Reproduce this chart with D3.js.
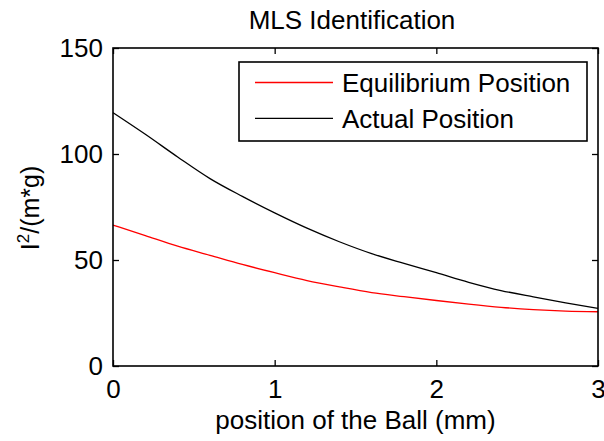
<!DOCTYPE html>
<html>
<head>
<meta charset="utf-8">
<script src="https://cdn.jsdelivr.net/npm/d3@7"></script>
<style>
  body { margin: 0; background: #fff; }
  text { font-family: "Liberation Sans", Arial, sans-serif; fill: #000; }
</style>
</head>
<body>
<svg id="chart"></svg>
<script>
// values
let positions   = [0, 0.2, 0.4, 0.6, 0.8, 1.0, 1.2, 1.4, 1.6, 1.8, 2.0, 2.2, 2.4, 2.6, 2.8, 3.0]
let equilibrium = [66.5, 61.5, 56.5, 52.2, 47.9, 44, 40.3, 37.3, 34.6, 32.7, 30.9, 29.2, 27.7, 26.6, 25.9, 25.6]
let actual      = [119.5, 109.3, 98.6, 88.4, 80, 72.2, 65, 58.6, 53, 48.4, 44, 39.5, 35.6, 32.6, 29.8, 27.2]
let seriesNames = ["Equilibrium Position", "Actual Position"]
let xTicks = [0, 1, 2, 3]
let yTicks = [0, 50, 100, 150]

let seriesColors = ["#ff0000", "#000000"]

function showData() {

    //STEP 1: plot area
    let width = 604
    let height = 441
    let margin = { top: 48, right: 6, bottom: 75, left: 113 }
    let bodyWidth = width - margin.left - margin.right
    let bodyHeight = height - margin.top - margin.bottom
    let fontSize = 26

    let svg = d3.select("#chart")
        .attr("width", width)
        .attr("height", height)

    let chart = svg.append("g")
        .attr("transform", `translate(${margin.left}, ${margin.top})`)

    //STEP 2: scales and axes (MATLAB style: ticks inside, box on)
    let xScale = d3.scaleLinear()
        .domain([xTicks[0], xTicks[xTicks.length - 1]])
        .range([0, bodyWidth])

    let yScale = d3.scaleLinear()
        .domain([yTicks[0], yTicks[yTicks.length - 1]])
        .range([bodyHeight, 0])

    let xAxis = chart.append("g")
        .attr("transform", `translate(0, ${bodyHeight})`)
        .call(d3.axisBottom(xScale).tickValues(xTicks).tickFormat(d3.format("d"))
            .tickSizeInner(-6).tickSizeOuter(0).tickPadding(14))

    let yAxis = chart.append("g")
        .call(d3.axisLeft(yScale).tickValues(yTicks).tickFormat(d3.format("d"))
            .tickSizeInner(-6).tickSizeOuter(0).tickPadding(10))

    let topAxis = chart.append("g")
        .call(d3.axisTop(xScale).tickValues(xTicks).tickFormat("")
            .tickSizeInner(-6).tickSizeOuter(0))

    let rightAxis = chart.append("g")
        .attr("transform", `translate(${bodyWidth}, 0)`)
        .call(d3.axisRight(yScale).tickValues(yTicks).tickFormat("")
            .tickSizeInner(-6).tickSizeOuter(0))

    for (let ax of [xAxis, yAxis, topAxis, rightAxis]) {
        ax.attr("font-size", fontSize)
          .attr("font-family", null)
        ax.select(".domain").remove()
        ax.selectAll(".tick line").attr("stroke", "#000").attr("stroke-width", 1.3)
    }

    //STEP 3: the two curves
    let lines = [equilibrium, actual]
    for (var i = 0; i < lines.length; i++) {
        let valueline = d3.line()
            .x((d, j) => xScale(positions[j]))
            .y(d => yScale(d))
            .curve(d3.curveMonotoneX)

        chart.append("path")
            .datum(lines[i])
            .attr("fill", "none")
            .attr("stroke", seriesColors[i])
            .attr("stroke-width", 1.3)
            .attr("d", valueline)
    }

    // axes box
    chart.append("rect")
        .attr("x", 0)
        .attr("y", 0)
        .attr("width", bodyWidth)
        .attr("height", bodyHeight)
        .attr("fill", "none")
        .attr("stroke", "#000")
        .attr("stroke-width", 1.6)

    //STEP 4: legend
    let legend = chart.append("g")
        .attr("transform", `translate(${239 - margin.left}, ${62 - margin.top})`)

    legend.append("rect")
        .attr("width", 348)
        .attr("height", 79)
        .attr("fill", "#fff")
        .attr("stroke", "#000")
        .attr("stroke-width", 1.6)

    for (var i = 0; i < seriesNames.length; i++) {
        let rowY = 20.5 + i * 35.8
        legend.append("line")
            .attr("x1", 16)
            .attr("x2", 94)
            .attr("y1", rowY)
            .attr("y2", rowY)
            .attr("stroke", seriesColors[i])
            .attr("stroke-width", 1.3)

        legend.append("text")
            .attr("x", 103)
            .attr("y", rowY + 9.3)
            .attr("font-size", fontSize)
            .text(seriesNames[i])
    }

    //STEP 5: title and axis labels
    svg.append("text")
        .text("MLS Identification")
        .attr("x", 352)
        .attr("y", 28.5)
        .attr("font-size", fontSize)
        .attr("text-anchor", "middle")

    svg.append("text")
        .text("position of the Ball (mm)")
        .attr("x", margin.left + bodyWidth / 2)
        .attr("y", 429)
        .attr("font-size", fontSize)
        .attr("text-anchor", "middle")

    let yLabel = svg.append("text")
        .attr("transform", "rotate(-90)")
        .attr("x", -208)
        .attr("y", 39)
        .attr("font-size", 25)
        .attr("text-anchor", "middle")
    yLabel.append("tspan").text("I")
    yLabel.append("tspan").text("2").attr("font-size", 17).attr("dy", -10)
    yLabel.append("tspan").text("/(m*g)").attr("dy", 10)
}

showData()
</script>
</body>
</html>
